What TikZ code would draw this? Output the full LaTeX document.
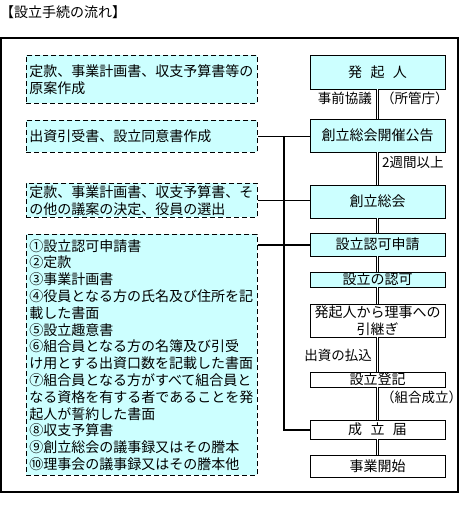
\documentclass[tikz,border=0pt]{standalone}
\usepackage{fontspec}
\setmainfont{Noto Sans CJK JP}
\usetikzlibrary{positioning}
\definecolor{pale}{HTML}{CCFFFF}

\begin{document}
\begin{tikzpicture}[x=1pt,y=-1pt,
  every node/.style={font=\fontsize{14}{16.8}\selectfont},
  memo/.style={draw,line width=0.9pt,dash pattern=on 5pt off 3pt,fill=pale,anchor=north west,
               align=left,text width=225pt,inner xsep=3pt,inner ysep=0pt},
  flow/.style={draw,line width=0.8pt,fill=pale,minimum width=135pt,inner sep=0pt,align=center},
  done/.style={flow,fill=white},
  lbl/.style={font=\fontsize{13.5}{15}\selectfont,inner sep=0pt},
  link/.style={line width=0.8pt},
  bus/.style={line width=2pt},
  pipe/.style={double,line width=0.8pt,double distance=1.6pt}]
\useasboundingbox (0,0) rectangle (469,526);
\node[anchor=west,inner sep=0pt] (title) at (0,12) {【設立手続の流れ】};
\draw[line width=1.5pt] (1,38) rectangle (458,492);

\node[memo,minimum height=48pt] (m1) at (26,55) {定款、事業計画書、収支予算書等の\\原案作成};
\node[memo,minimum height=32pt] (m2) at (26,120) {出資引受書、設立同意書作成};
\node[memo,minimum height=34pt] (m3) at (26,183) {定款、事業計画書、収支予算書、そ\\の他の議案の決定、役員の選出};
\node[memo,minimum height=241pt] (m4) at (26,234) {①設立認可申請書\\②定款\\③事業計画書\\④役員となる方の氏名及び住所を記\\載した書面\\⑤設立趣意書\\⑥組合員となる方の名簿及び引受\\け用とする出資口数を記載した書面\\⑦組合員となる方がすべて組合員と\\なる資格を有する者であることを発\\起人が誓約した書面\\⑧収支予算書\\⑨創立総会の議事録又はその謄本\\⑩理事会の議事録又はその謄本他};

\node[flow,minimum height=34pt] (hokki) at (377.5,72) {発\hspace{0.6em}起\hspace{0.6em}人};
\node[flow,minimum height=33pt] (kokoku) at (377.5,135.5) {創立総会開催公告};
\node[flow,minimum height=33pt] (sokai) at (377.5,201.5) {創立総会};
\node[flow,minimum height=23pt] (shinsei) at (377.5,244.5) {設立認可申請};
\node[flow,minimum height=15pt] (ninka) at (377.5,279.5) {設立の認可};
\node[done,minimum height=33pt] (hikitsugi) at (377.5,320.5) {発起人から理事への\\引継ぎ};
\node[done,minimum height=15pt] (toki) at (377.5,379.5) {設立登記};
\node[done,minimum height=19pt] (todoke) at (377.5,429.5) {成\hspace{0.6em}立\hspace{0.6em}届};
\node[done,minimum height=22pt] (kaishi) at (377.5,466) {事業開始};

\draw[pipe] (hokki) -- (kokoku);
\draw[pipe] (kokoku) -- (sokai);
\draw[pipe] (sokai) -- (shinsei);
\draw[pipe] (shinsei) -- (ninka);
\draw[pipe] (ninka) -- (hikitsugi);
\draw[pipe] (hikitsugi) -- (toki);
\draw[pipe] (toki) -- (todoke);
\draw[pipe] (todoke) -- (kaishi);

\node[lbl,anchor=east] (pre) at (372,98) {事前協議};
\node[lbl,anchor=west] (gov) at (381,98) {（所管庁）};
\node[lbl,anchor=west] (wk) at (382,162) {2週間以上};
\node[lbl,anchor=east] (pay) at (372,355) {出資の払込};
\node[lbl,anchor=west] (est) at (381,397) {（組合成立）};

\draw[link] (m2.east) -- (m2.east -| kokoku.west);
\draw[link] (m3.east) -- (m3.east -| sokai.west);
\draw[bus] (m4.east |- shinsei.west) -- (shinsei.west);
\coordinate (knot) at (284,136);
\draw[bus] (knot) |- (todoke.west);
\end{tikzpicture}
\end{document}
